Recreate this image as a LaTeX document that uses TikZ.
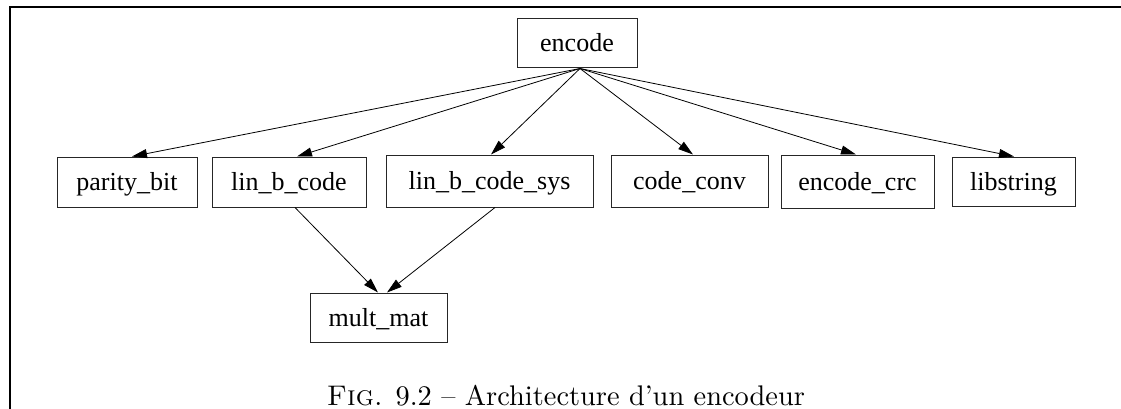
\documentclass[tikz,border=0pt]{standalone}
\usepackage{fontspec}
\newfontfamily\boxfont{Liberation Serif}
\usetikzlibrary{arrows.meta,calc}
\begin{document}
\begin{tikzpicture}[x=1pt,y=-1pt,
  modbox/.style={draw=black!85,line width=1pt,inner sep=0pt,
    font=\boxfont\fontsize{26}{30}\selectfont,
    text height=23pt,text depth=6pt,minimum height=49pt},
  dep/.style={line width=0.8pt,-{Triangle[length=15pt,width=9pt]}},
  frameline/.style={line width=2pt}]
\useasboundingbox (0,0) rectangle (1121,409);
% frame of the figure
\coordinate (fl) at (10,409);
\coordinate (fc) at (10,7);
\coordinate (fr) at (1121,7);
\draw[frameline] (fl) -- (fc) -- (fr);
% modules
\node[modbox,minimum width=120pt] (encode) at (577,43.5) {encode};
\node[modbox,minimum width=140pt,minimum height=50pt] (parity) at (127,182) {parity\_bit};
\node[modbox,minimum width=154pt,minimum height=50pt] (linb) at (289,182) {lin\_b\_code};
\node[modbox,minimum width=207pt,minimum height=52pt] (linbsys) at (489.5,181) {lin\_b\_code\_sys};
\node[modbox,minimum width=157pt,minimum height=52pt] (conv) at (689.5,181) {code\_conv};
\node[modbox,minimum width=153pt,minimum height=53pt] (crc) at (857.5,181.5) {encode\_crc};
\node[modbox,minimum width=123pt] (libstr) at (1013.5,181.5) {libstring};
\node[modbox,minimum width=137pt] (mult) at (378.5,317.5) {mult\_mat};
% dependencies
\coordinate (src) at ($(encode.south)+(3,0)$);
\draw[dep] (src) -- ($(parity.north)+(5,0)$);
\draw[dep] (src) -- ($(linb.north)+(8,0)$);
\draw[dep] (src) -- ($(linbsys.north)+(1.5,0)$);
\draw[dep] (src) -- ($(conv.north)+(3.5,0)$);
\draw[dep] (src) -- ($(crc.north)+(-1.5,0)$);
\draw[dep] (src) -- ($(libstr.north)+(0.5,0)$);
\draw[dep] ($(linb.south)+(6,0)$) -- ($(mult.north)+(-0.5,0)$);
\draw[dep] ($(linbsys.south)+(5.5,0)$) -- ($(mult.north)+(8.5,0)$);
% caption
\node[anchor=base,inner sep=0pt] (caption) at (566,405)
  {\resizebox{478pt}{!}{\textsc{Fig.} 9.2 -- Architecture d'un encodeur}};
\end{tikzpicture}
\end{document}
